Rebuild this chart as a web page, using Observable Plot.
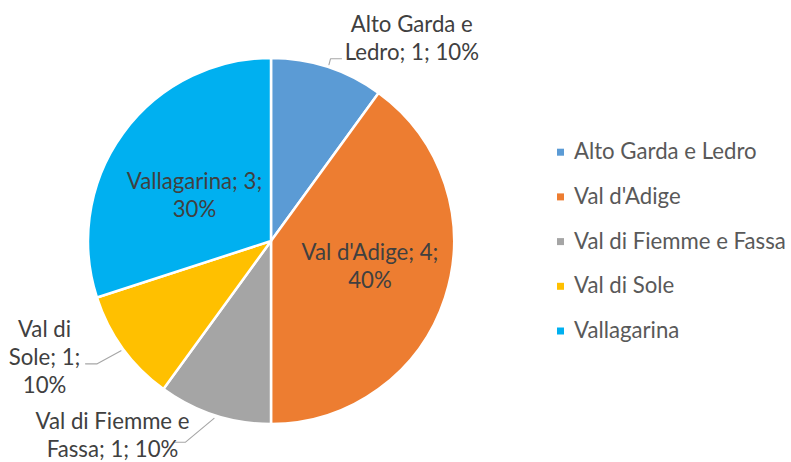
<!DOCTYPE html>
<html><head><meta charset="utf-8">
<script src="https://cdn.jsdelivr.net/npm/d3@7"></script>
<script src="https://cdn.jsdelivr.net/npm/@observablehq/plot@0.6"></script>
<style>body{margin:0;background:#fff;} #chart{width:791px;height:462px;}</style>
</head><body><div id="chart"></div>
<script>
// ---- data ----
const categories = ["Alto Garda e Ledro", "Val d'Adige", "Val di Fiemme e Fassa", "Val di Sole", "Vallagarina"];
const values = [1, 4, 1, 1, 3];
const colors = ["#5B9BD5", "#ED7D31", "#A5A5A5", "#FFC000", "#00B0F0"];

// ---- layout ----
const W = 791, H = 462, CX = 271, CY = 241, R = 183;
const FONT = 22.2, LH = 1.27;
const labelLayout = {
  "Alto Garda e Ledro":   {wrap: 13, outside: true, elbow: [1.5, -5.8], tail: 11, off: [70.3, -21.8]},
  "Val d'Adige":          {wrap: 15, r: 100.7, off: [2.7, -8]},
  "Val di Fiemme e Fassa":{wrap: 15, outside: true, elbow: [-28.5, 23.8], tail: -12, off: [-61, -8.2]},
  "Val di Sole":          {wrap: 8, outside: true, elbow: [-23.8, 13], tail: -11.7, off: [-41, -7.8]},
  "Vallagarina":          {wrap: 15, r: 90.5, off: [-3.8, 5.7]}
};
const legendX = 560, legendTextX = 573.5, legendTop = 151.7, legendStep = 44.7;

const total = d3.sum(values);
const rows = categories.map((name, i) => ({name, value: values[i], pct: Math.round(values[i] / total * 100) + "%"}));
const arcs = d3.pie().sort(null).value(d => d.value)(rows);
const polar = (a, r) => [CX + r * Math.sin(a), CY - r * Math.cos(a)];
const midA = a => (a.startAngle + a.endAngle) / 2;

function wrap(str, max) {
  const words = str.split(" "); const lines = []; let cur = "";
  for (const w of words) {
    const t = cur ? cur + " " + w : w;
    if (t.length > max && cur) { lines.push(cur); cur = w; } else cur = t;
  }
  if (cur) lines.push(cur);
  return lines.join("\n");
}

const labels = [], leaders = [];
arcs.forEach(a => {
  const d = a.data, L = labelLayout[d.name];
  const text = wrap(`${d.name}; ${d.value}; ${d.pct}`, L.wrap);
  if (L.outside) {
    const s = polar(midA(a), R + 3);
    const e = [s[0] + L.elbow[0], s[1] + L.elbow[1]];
    const t = [e[0] + L.tail, e[1]];
    leaders.push({name: d.name, x: s[0], y: s[1]}, {name: d.name, x: e[0], y: e[1]}, {name: d.name, x: t[0], y: t[1]});
    labels.push({text, x: t[0] + L.off[0], y: t[1] + L.off[1]});
  } else {
    const p = polar(midA(a), L.r);
    labels.push({text, x: p[0] + L.off[0], y: p[1] + L.off[1]});
  }
});
const legendRows = rows.map((d, i) => ({name: d.name, y: legendTop + i * legendStep}));

const arcGen = d3.arc().innerRadius(0).outerRadius(R);

const chart = Plot.plot({
  width: W, height: H, margin: 0,
  style: {fontFamily: "Lato, 'Open Sans', sans-serif", background: "#fff"},
  x: {domain: [0, W], range: [0, W], axis: null},
  y: {domain: [0, H], range: [0, H], axis: null},
  color: {domain: categories, range: colors},
  marks: [
    (index, scales) => {
      const g = d3.create("svg:g");
      const cx = scales.x(CX), cy = scales.y(CY);
      for (const a of arcs) {
        g.append("path")
          .attr("transform", `translate(${cx},${cy})`)
          .attr("d", arcGen(a))
          .attr("fill", scales.color(a.data.name))
          .attr("stroke", "#fff")
          .attr("stroke-width", 2.5)
          .attr("stroke-linejoin", "round");
      }
      return g.node();
    },
    Plot.line(leaders, {x: "x", y: "y", z: "name", stroke: "#A6A6A6", strokeWidth: 1.1, curve: "linear"}),
    Plot.text(labels, {x: "x", y: "y", text: "text", fill: "#404040", fontSize: FONT, lineHeight: LH, textAnchor: "middle"}),
    Plot.dot(legendRows, {x: legendX, y: "y", fill: "name", symbol: "square", r: 3.95, stroke: null}),
    Plot.text(legendRows, {x: legendTextX, y: "y", text: "name", fill: "#595959", fontSize: FONT, textAnchor: "start"})
  ]
});
document.getElementById("chart").appendChild(chart);
</script>
</body></html>
